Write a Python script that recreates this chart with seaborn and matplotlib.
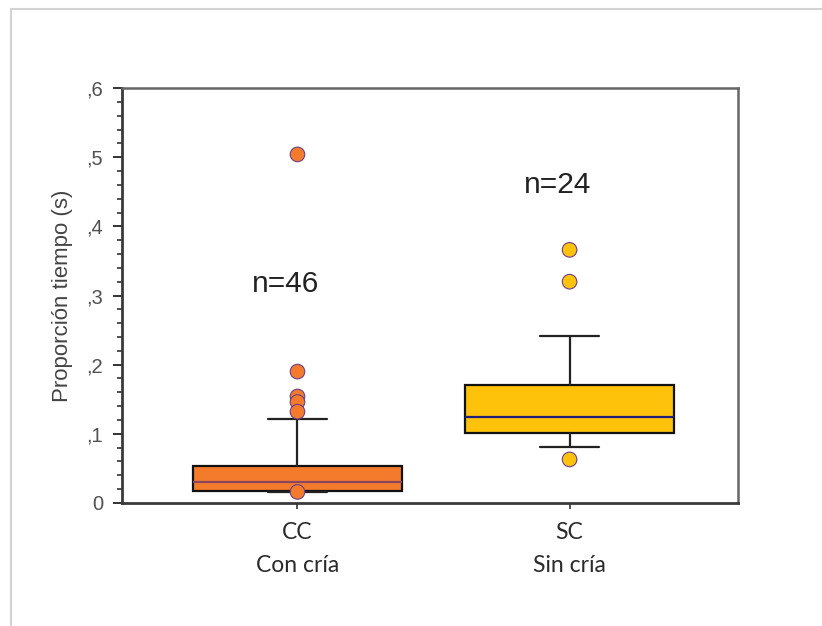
import matplotlib
matplotlib.use("Agg")
import matplotlib.pyplot as plt
from matplotlib.lines import Line2D
from matplotlib.ticker import MultipleLocator, FixedLocator
import seaborn as sns
import pandas as pd

# summary stats
groups = ["CC", "SC"]
group_names = ["Con cría", "Sin cría"]
n_labels = ["n=46", "n=24"]
medians = [0.031, 0.124]
q1s = [0.018, 0.101]
q3s = [0.053, 0.170]
whis_low = [0.016, 0.081]
whis_high = [0.122, 0.241]
outliers_cc = [0.504, 0.190, 0.154, 0.146, 0.132, 0.016]
outliers_sc = [0.366, 0.320, 0.063]

box_colors = ["#F47B2C", "#FFC20A"]
median_colors = ["#8A4560", "#1F1F7A"]
n_label_y = [0.316, 0.460]

sns.set_style("white")
plt.rcParams["font.family"] = ["Liberation Sans", "DejaVu Sans"]

fig = plt.figure(figsize=(8.22, 6.26), dpi=100)
ax = fig.add_axes([0.1484, 0.1965, 0.7494, 0.6629])

out_df = pd.DataFrame({
    "grupo": ["CC"] * len(outliers_cc) + ["SC"] * len(outliers_sc),
    "valor": outliers_cc + outliers_sc,
})

stats = []
for i, g in enumerate(groups):
    stats.append({
        "label": g, "med": medians[i], "q1": q1s[i], "q3": q3s[i],
        "whislo": whis_low[i], "whishi": whis_high[i], "fliers": [],
    })

bp = ax.bxp(stats, positions=[0, 1], widths=0.765, capwidths=0.22,
            patch_artist=True, showfliers=False,
            boxprops=dict(linewidth=1.6, edgecolor="#111111"),
            whiskerprops=dict(linewidth=1.6, color="#222222"),
            capprops=dict(linewidth=1.6, color="#222222"),
            medianprops=dict(linewidth=1.6))
for i, patch in enumerate(bp["boxes"]):
    patch.set_facecolor(box_colors[i])
for i, med in enumerate(bp["medians"]):
    med.set_color(median_colors[i])

n_before = len(ax.collections)
sns.stripplot(data=out_df, x="grupo", y="valor", hue="grupo", order=groups,
              palette=dict(zip(groups, box_colors)), jitter=False, size=10.5,
              linewidth=0.8, edgecolor="#6A3F8A", legend=False, ax=ax)
for c in ax.collections[n_before:]:
    c.set_zorder(4)

for i, t in enumerate(n_labels):
    ax.text(i - 0.045, n_label_y[i], t, ha="center", va="center",
            fontsize=21.5, color="#222222")

ax.set_xlim(-0.645, 1.619)
ax.set_ylim(0, 0.6)

ax.yaxis.set_major_locator(FixedLocator([0, 0.1, 0.2, 0.3, 0.4, 0.5, 0.6]))
ax.yaxis.set_minor_locator(MultipleLocator(0.02))
ax.set_yticklabels(["0", ",1", ",2", ",3", ",4", ",5", ",6"])
ax.tick_params(axis="y", which="major", direction="out", length=6.5, width=1.4,
               color="#333333", labelsize=14.5, labelcolor="#505050", pad=7, left=True)
ax.tick_params(axis="y", which="minor", direction="out", length=3.5, width=1.2,
               color="#333333", left=True)

ax.set_xticks([0, 1])
ax.set_xticklabels(groups, fontfamily="Lato")
ax.tick_params(axis="x", direction="out", length=4, width=1.2, color="#333333",
               labelsize=16.5, labelcolor="#2A2A2A", pad=10, bottom=True)
for i, name in enumerate(group_names):
    ax.text(i, -0.09, name, ha="center", va="center", fontsize=16.5,
            fontfamily="Lato", color="#2A2A2A")

ax.set_xlabel("")
ax.set_ylabel("Proporción tiempo (s)", fontsize=16, color="#444444", labelpad=10)

for side in ["left", "bottom"]:
    ax.spines[side].set_linewidth(2.0)
    ax.spines[side].set_color("#3A3A3A")
for side in ["top", "right"]:
    ax.spines[side].set_visible(True)
    ax.spines[side].set_linewidth(1.8)
    ax.spines[side].set_color("#666666")

# outer frame of the screenshot
fig.add_artist(Line2D([0.0134, 1.0], [0.9856, 0.9856], color="#d2d2d2", linewidth=1.5))
fig.add_artist(Line2D([0.0134, 0.0134], [0.0, 0.9856], color="#d2d2d2", linewidth=1.5))

fig.savefig("out.png", dpi=100)
